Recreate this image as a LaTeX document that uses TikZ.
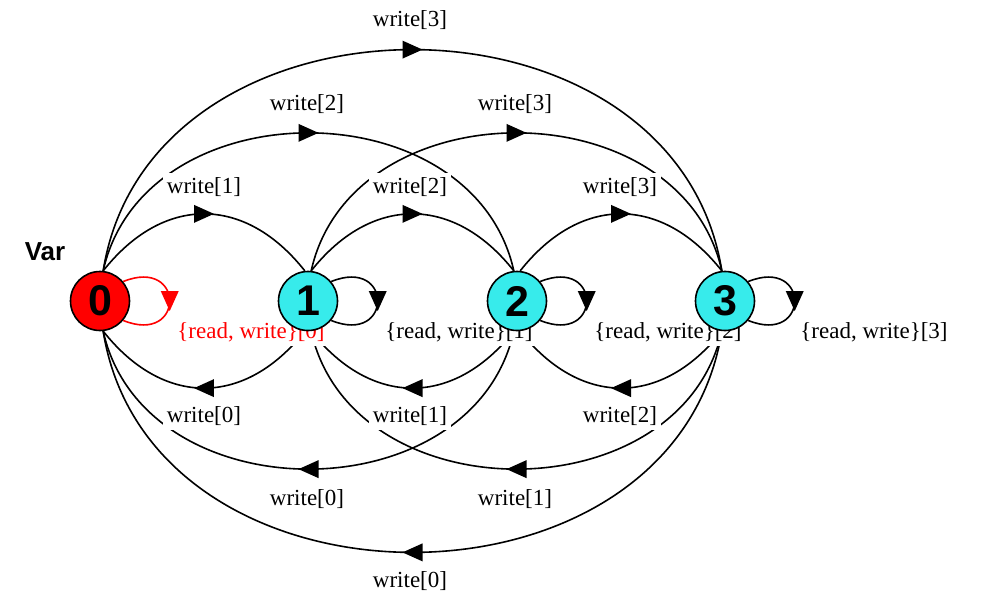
\documentclass[tikz,border=0pt]{standalone}
\usepackage{fontspec}
\setmainfont{Liberation Serif}
\newfontfamily\headfont{Liberation Sans}
\usetikzlibrary{decorations.markings}
\pgfdeclarelayer{bg}
\pgfdeclarelayer{lab}
\pgfsetlayers{bg,lab,main}
\definecolor{nodecyan}{RGB}{55,235,235}
\definecolor{nodered}{RGB}{255,0,0}
\tikzset{
 state/.style={circle, draw=black, line width=1.6pt, minimum size=59pt, inner sep=0pt,
   font=\headfont\bfseries\fontsize{43}{43}\selectfont},
 edge/.style={line width=1.6pt, postaction={decorate},
   decoration={markings, mark=at position 0.5 with {\fill (10pt,0) -- (-10pt,9pt) -- (-10pt,-9pt) -- cycle;}}},
 lab/.style={fill=white, inner sep=4pt, font=\fontsize{23}{25}\selectfont},
}
\begin{document}
\begin{tikzpicture}[x=1pt,y=-1pt]
\useasboundingbox (0,0) rectangle (985,604);
\node[state, fill=nodered] (n0) at (100,301) {0};
\node[state, fill=nodecyan] (n1) at (308,301) {1};
\node[state, fill=nodecyan] (n2) at (517,301) {2};
\node[state, fill=nodecyan] (n3) at (725,301) {3};
\node[font=\headfont\bfseries\fontsize{26}{26}\selectfont] (var) at (45,252) {Var};

\begin{pgfonlayer}{bg}
% upper arcs (left to right)
\draw[edge] (n0.84) .. controls +(60,-76) and +(-60,-76) .. (n1.96);
\draw[edge] (n1.84) .. controls +(60,-76) and +(-60,-76) .. (n2.96);
\draw[edge] (n2.84) .. controls +(60,-76) and +(-60,-76) .. (n3.96);
\draw[edge] (n0.84) .. controls +(41,-184) and +(-41,-184) .. (n2.96);
\draw[edge] (n1.84) .. controls +(41,-184) and +(-41,-184) .. (n3.96);
\draw[edge] (n0.84) .. controls +(47,-295) and +(-47,-295) .. (n3.96);
% lower arcs (right to left)
\draw[edge] (n1.264) .. controls +(-60,76) and +(60,76) .. (n0.276);
\draw[edge] (n2.264) .. controls +(-60,76) and +(60,76) .. (n1.276);
\draw[edge] (n3.264) .. controls +(-60,76) and +(60,76) .. (n2.276);
\draw[edge] (n2.264) .. controls +(-41,184) and +(41,184) .. (n0.276);
\draw[edge] (n3.264) .. controls +(-41,184) and +(41,184) .. (n1.276);
\draw[edge] (n3.264) .. controls +(-47,295) and +(47,295) .. (n0.276);
% self loops
\draw[edge, nodered] (n0.40) .. controls +(62,-25) and +(62,25) .. (n0.-40);
\draw[edge] (n1.40) .. controls +(62,-25) and +(62,25) .. (n1.-40);
\draw[edge] (n2.40) .. controls +(62,-25) and +(62,25) .. (n2.-40);
\draw[edge] (n3.40) .. controls +(62,-25) and +(62,25) .. (n3.-40);
\end{pgfonlayer}

\begin{pgfonlayer}{lab}
\node[lab] (l01) at (204,187) {write[1]};
\node[lab] (l12) at (410,187) {write[2]};
\node[lab] (l23) at (620,187) {write[3]};
\node[lab] (l02) at (307,104) {write[2]};
\node[lab] (l13) at (515,104) {write[3]};
\node[lab] (l03) at (410,20) {write[3]};
\node[lab] (l10) at (204,416) {write[0]};
\node[lab] (l21) at (410,416) {write[1]};
\node[lab] (l32) at (620,416) {write[2]};
\node[lab] (l20) at (307,499) {write[0]};
\node[lab] (l31) at (515,499) {write[1]};
\node[lab] (l30) at (410,581) {write[0]};
\node[lab, text=nodered] (s0) at (251,332) {\{read, write\}[0]};
\node[lab] (s1) at (459,332) {\{read, write\}[1]};
\node[lab] (s2) at (668,332) {\{read, write\}[2]};
\node[lab] (s3) at (874,332) {\{read, write\}[3]};
\end{pgfonlayer}
\end{tikzpicture}
\end{document}
